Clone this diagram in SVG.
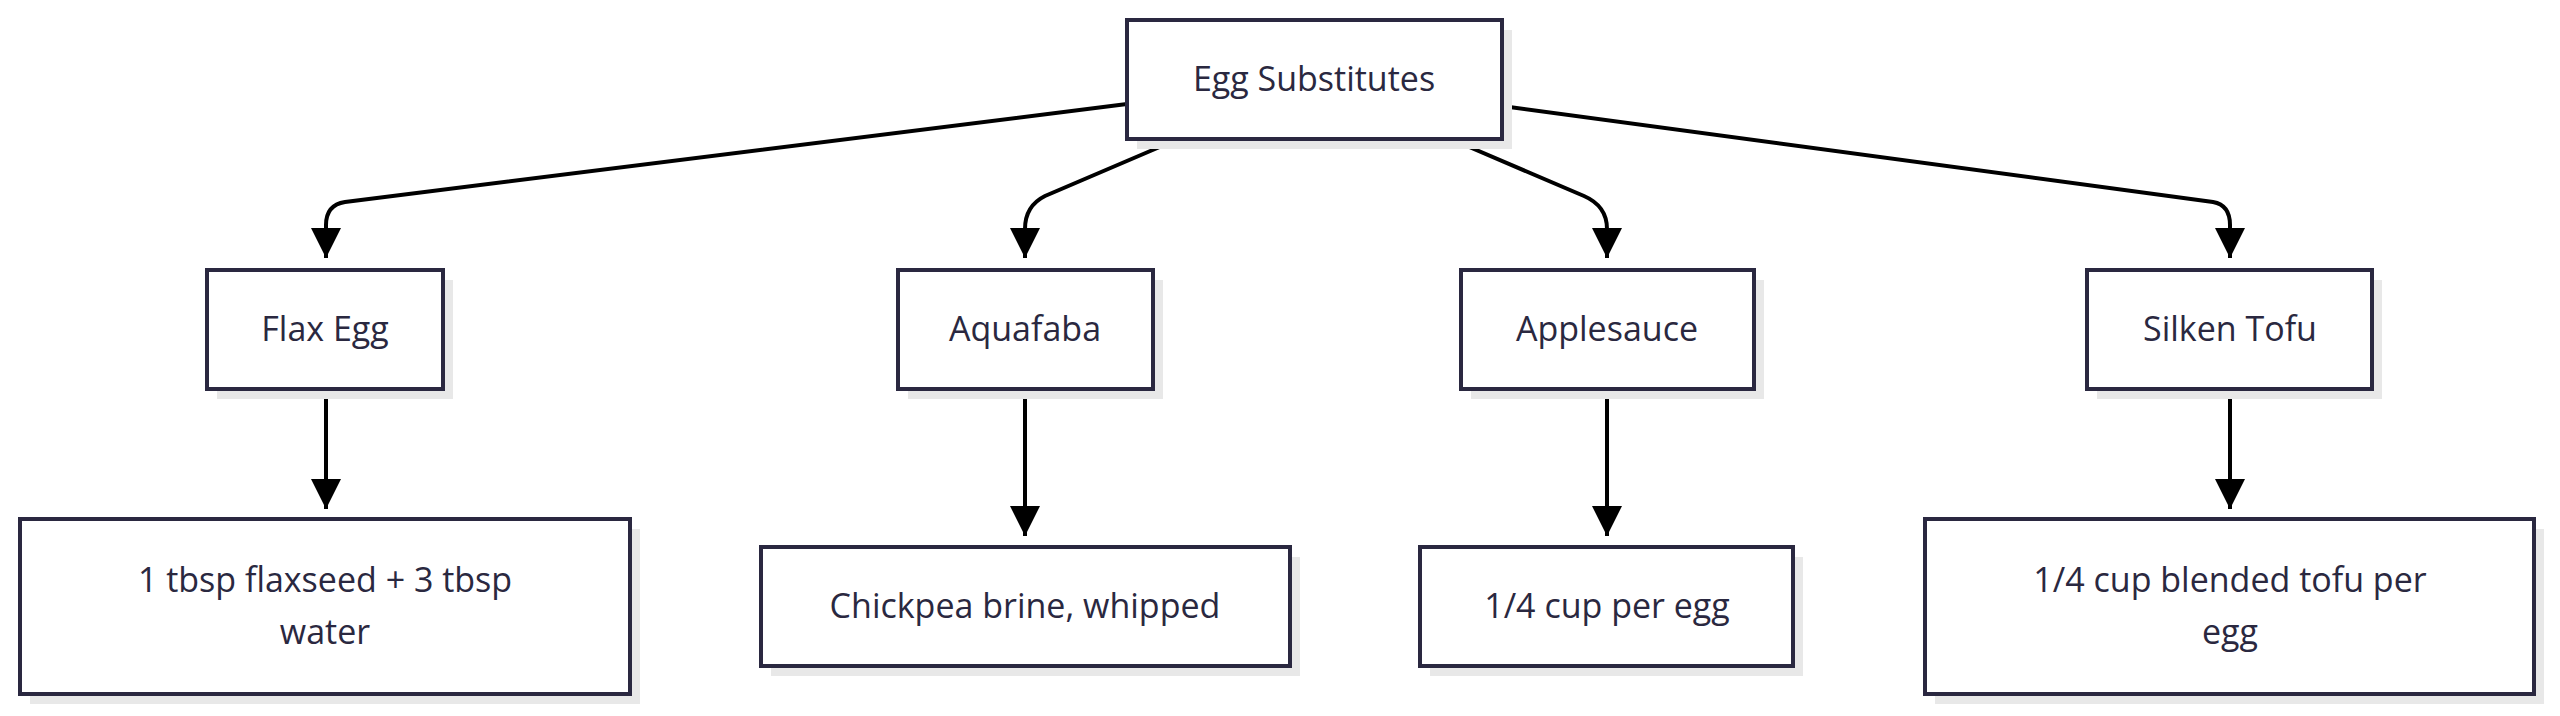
<svg xmlns="http://www.w3.org/2000/svg" width="2560" height="716" viewBox="0 0 2560 716">
<style>
.box{fill:#fff;stroke:#2a2840;stroke-width:4}
.sh{fill:#e8e8e8}
.t{font-family:"Open Sans","Noto Sans",sans-serif;font-size:34px;fill:#2a2840;text-anchor:middle}
.e{fill:none;stroke:#000;stroke-width:4}
</style>
<defs><marker id="a" markerWidth="10" markerHeight="10" refX="9" refY="5" orient="auto" markerUnits="userSpaceOnUse" viewBox="0 0 10 10"><path d="M0,0L10,5L0,10z" fill="#000"/></marker>
<marker id="b" viewBox="0 0 10 10" refX="10" refY="5" markerWidth="32" markerHeight="30" orient="auto" markerUnits="userSpaceOnUse"><path d="M0,0L10,5L0,10z" fill="#000"/></marker></defs>
<g id="edges">
<path class="e" marker-end="url(#b)" d="M1127,104 L345,202 Q326,205 326,225 L326,258"/>
<path class="e" marker-end="url(#b)" d="M1176,140 L1045,196 Q1025,206 1025,229 L1025,258"/>
<path class="e" marker-end="url(#b)" d="M1453,140 L1584,196 Q1607,206 1607,229 L1607,258"/>
<path class="e" marker-end="url(#b)" d="M1502,106 L2213,202 Q2230,205 2230,225 L2230,258"/>
<path class="e" marker-end="url(#b)" d="M326,389 L326,509"/>
<path class="e" marker-end="url(#b)" d="M1025,389 L1025,536"/>
<path class="e" marker-end="url(#b)" d="M1607,389 L1607,536"/>
<path class="e" marker-end="url(#b)" d="M2230,389 L2230,509"/>
</g>
<g id="root"><rect class="sh" x="1137" y="30" width="375" height="119"/><rect class="box" x="1127" y="20" width="375" height="119"/><text class="t" x="1314" y="91">Egg Substitutes</text></g>
<g id="flax"><rect class="sh" x="217" y="280" width="236" height="119"/><rect class="box" x="207" y="270" width="236" height="119"/><text class="t" x="325" y="341">Flax Egg</text></g>
<g id="aqua"><rect class="sh" x="908" y="280" width="255" height="119"/><rect class="box" x="898" y="270" width="255" height="119"/><text class="t" x="1025" y="341">Aquafaba</text></g>
<g id="apple"><rect class="sh" x="1471" y="280" width="293" height="119"/><rect class="box" x="1461" y="270" width="293" height="119"/><text class="t" x="1607" y="341">Applesauce</text></g>
<g id="tofu"><rect class="sh" x="2097" y="280" width="285" height="119"/><rect class="box" x="2087" y="270" width="285" height="119"/><text class="t" x="2230" y="341">Silken Tofu</text></g>
<g id="flaxd"><rect class="sh" x="30" y="529" width="610" height="175"/><rect class="box" x="20" y="519" width="610" height="175"/><text class="t" x="325" y="592">1 tbsp flaxseed + 3 tbsp</text><text class="t" x="325" y="644">water</text></g>
<g id="aquad"><rect class="sh" x="771" y="557" width="529" height="119"/><rect class="box" x="761" y="547" width="529" height="119"/><text class="t" x="1025" y="618">Chickpea brine, whipped</text></g>
<g id="appled"><rect class="sh" x="1430" y="557" width="373" height="119"/><rect class="box" x="1420" y="547" width="373" height="119"/><text class="t" x="1607" y="618">1/4 cup per egg</text></g>
<g id="tofud"><rect class="sh" x="1935" y="529" width="609" height="175"/><rect class="box" x="1925" y="519" width="609" height="175"/><text class="t" x="2230" y="592">1/4 cup blended tofu per</text><text class="t" x="2230" y="644">egg</text></g>
</svg>
